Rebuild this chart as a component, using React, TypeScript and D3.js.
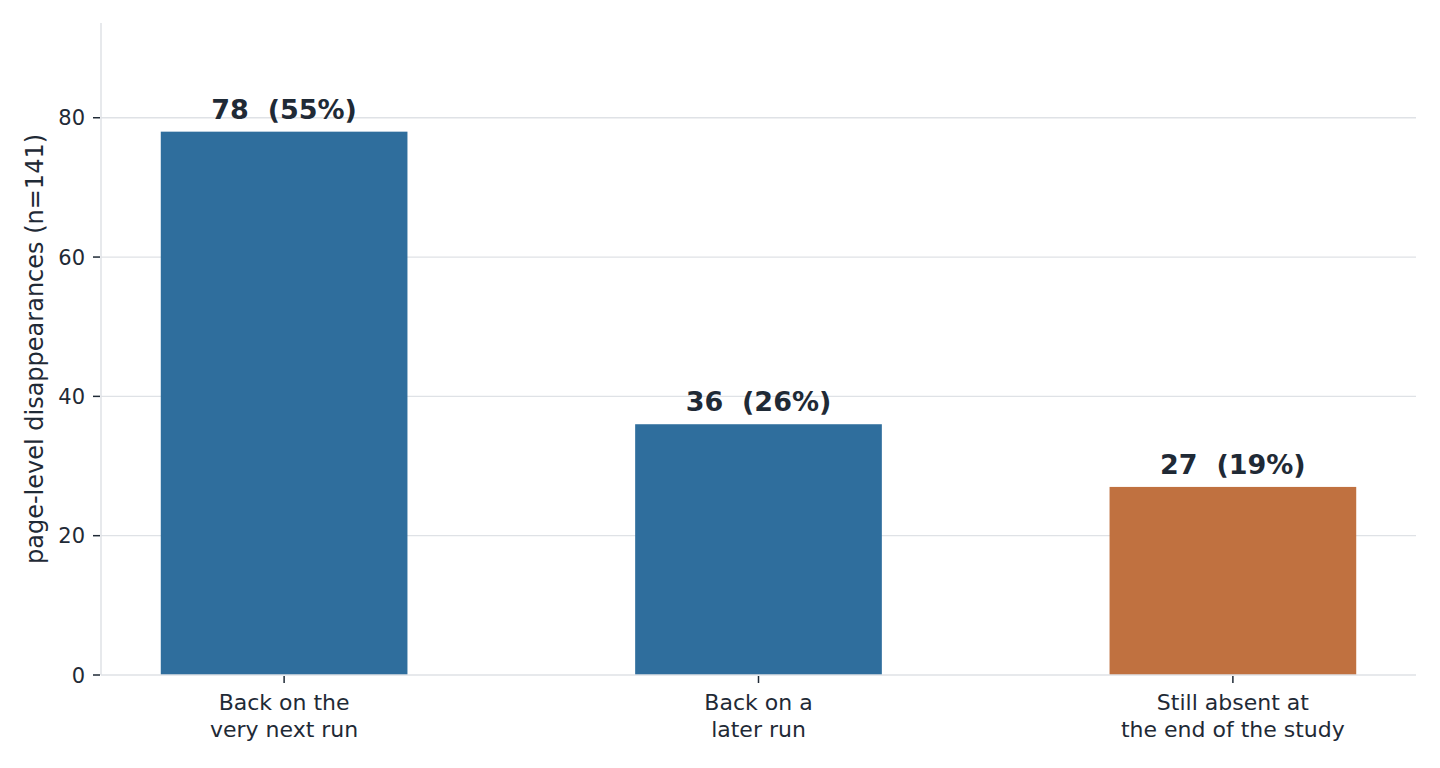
// @ts-nocheck
import { useEffect, useRef } from 'react';
import * as d3 from 'd3';

const categories = ['Back on the\nvery next run', 'Back on a\nlater run', 'Still absent at\nthe end of the study'];
const counts = [78, 36, 27];
const shares = [55, 26, 19];
const barColors = ['#2f6e9d', '#2f6e9d', '#c07140'];
const yTicks = [0, 20, 40, 60, 80];
const yLabel = 'page-level disappearances (n=141)';

const WIDTH = 1440;
const HEIGHT = 768;
const TEXT = '#1f2a36';
const GRID = '#dfe2e6';
const FONT = 'DejaVu Sans, sans-serif';

export default function App() {
  const svgRef = useRef<SVGSVGElement>(null);

  useEffect(() => {
    if (!svgRef.current) return;
    const svg = d3.select(svgRef.current);
    svg.selectAll('*').remove();

    const left = 101;
    const right = 1416;
    const top = 23;
    const bottom = 675;
    const barWidth = 0.52;

    // x in category units, with 5% margins like the source
    const span = (categories.length - 1) + barWidth;
    const pad = span * 0.05;
    const x = d3.scaleLinear()
      .domain([-barWidth / 2 - pad, categories.length - 1 + barWidth / 2 + pad])
      .range([left, right]);
    const y = d3.scaleLinear().domain([0, d3.max(counts) * 1.2]).range([bottom, top]);

    // grid
    svg.append('g')
      .selectAll('line')
      .data(yTicks.filter((t) => t > 0))
      .join('line')
      .attr('x1', left)
      .attr('x2', right)
      .attr('y1', (d) => y(d))
      .attr('y2', (d) => y(d))
      .attr('stroke', GRID)
      .attr('stroke-width', 1.3);

    // bars
    svg.append('g')
      .selectAll('rect')
      .data(counts)
      .join('rect')
      .attr('x', (d, i) => x(i - barWidth / 2))
      .attr('width', (d, i) => x(i + barWidth / 2) - x(i - barWidth / 2))
      .attr('y', (d) => y(d))
      .attr('height', (d) => y(0) - y(d))
      .attr('fill', (d, i) => barColors[i]);

    // spines
    svg.append('line')
      .attr('x1', left).attr('x2', left).attr('y1', top).attr('y2', bottom)
      .attr('stroke', GRID).attr('stroke-width', 1.5);
    svg.append('line')
      .attr('x1', left).attr('x2', right).attr('y1', bottom).attr('y2', bottom)
      .attr('stroke', GRID).attr('stroke-width', 1.5);

    // y ticks
    const yt = svg.append('g');
    yTicks.forEach((t) => {
      yt.append('line')
        .attr('x1', left - 8).attr('x2', left - 1)
        .attr('y1', y(t)).attr('y2', y(t))
        .attr('stroke', TEXT).attr('stroke-width', 1.5);
      yt.append('text')
        .attr('x', left - 16)
        .attr('y', y(t))
        .attr('dy', '0.36em')
        .attr('text-anchor', 'end')
        .attr('fill', TEXT)
        .attr('font-family', FONT)
        .attr('font-size', '21px')
        .text(t);
    });

    // x ticks + labels
    const xt = svg.append('g');
    categories.forEach((c, i) => {
      xt.append('line')
        .attr('x1', x(i)).attr('x2', x(i))
        .attr('y1', bottom + 1).attr('y2', bottom + 8)
        .attr('stroke', TEXT).attr('stroke-width', 1.5);
      const lines = c.split('\n');
      const t = xt.append('text')
        .attr('text-anchor', 'middle')
        .attr('fill', TEXT)
        .attr('font-family', FONT)
        .attr('font-size', '22px');
      lines.forEach((l, k) => {
        t.append('tspan').attr('x', x(i)).attr('y', bottom + 35 + k * 27).text(l);
      });
    });

    // value labels
    svg.append('g')
      .selectAll('text')
      .data(counts)
      .join('text')
      .attr('x', (d, i) => x(i))
      .attr('y', (d) => y(d) - 13)
      .attr('text-anchor', 'middle')
      .attr('fill', TEXT)
      .attr('font-family', FONT)
      .attr('font-size', '27px')
      .attr('font-weight', 'bold')
      .attr('xml:space', 'preserve')
      .style('white-space', 'pre')
      .text((d, i) => `${d}  (${shares[i]}%)`);

    // y label
    svg.append('text')
      .attr('transform', `translate(43, ${(top + bottom) / 2}) rotate(-90)`)
      .attr('text-anchor', 'middle')
      .attr('fill', TEXT)
      .attr('font-family', FONT)
      .attr('font-size', '24px')
      .text(yLabel);
  }, []);

  return (
    <svg
      ref={svgRef}
      width={WIDTH}
      height={HEIGHT}
      style={{ position: 'absolute', left: 0, top: 0, background: '#fff' }}
    />
  );
}
